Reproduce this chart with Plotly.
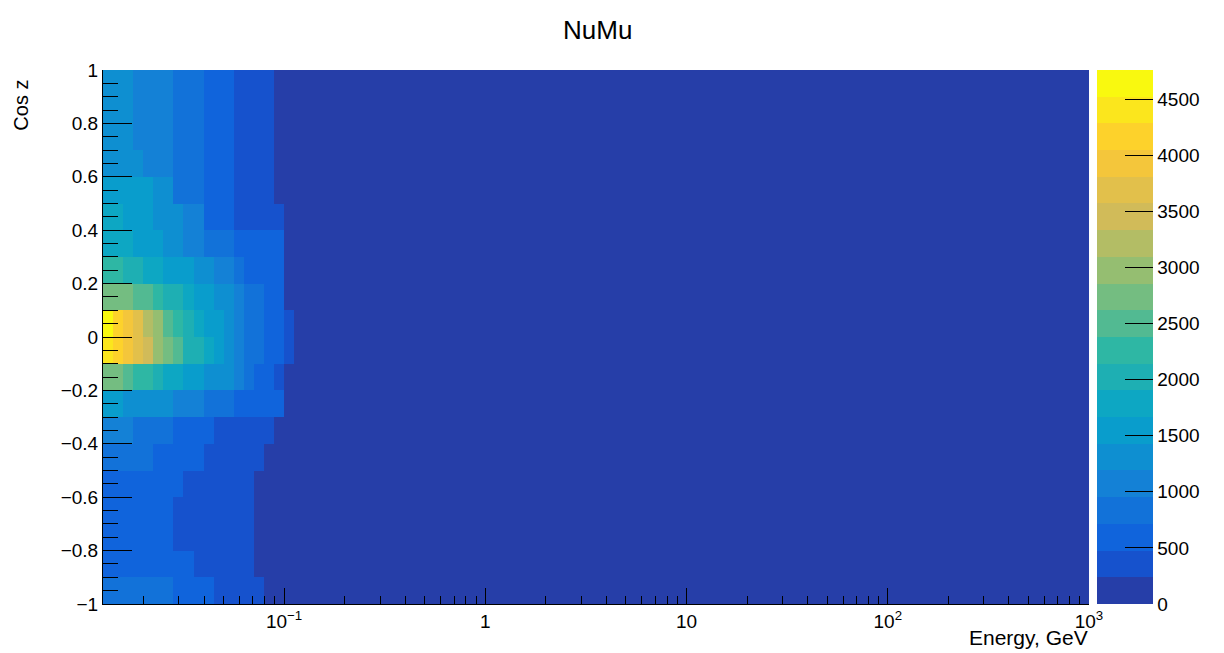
import numpy as np
import plotly.graph_objects as go

# ---- binning -------------------------------------------------------------
# energy bins: 0.05 decade wide starting at 10^-1.9 GeV; the first 19 bins are
# listed individually, everything above 10^-0.95 GeV is a single wide bin.
log_e_first_edge = -1.9
log_e_bin_width = 0.05
n_fine_bins = 19
e_max = 1000.0

cosz_edges = [-1.0, -0.9, -0.8, -0.7, -0.6, -0.5, -0.4, -0.3, -0.2, -0.1, 0.0,
              0.1, 0.2, 0.3, 0.4, 0.5, 0.6, 0.7, 0.8, 0.9, 1.0]

# ---- bin contents (rows: cos z bins from -1 upwards; columns: energy bins) --
counts_cz_m10 = [890, 870, 860, 850, 830, 810, 790, 680, 650, 620, 580, 440, 410, 380, 350, 310, 190, 150, 120]
counts_cz_m09 = [700, 690, 680, 670, 650, 640, 620, 590, 540, 460, 430, 400, 370, 330, 290, 200, 160, 130, 100]
counts_cz_m08 = [700, 690, 680, 660, 640, 610, 560, 460, 440, 420, 390, 360, 330, 300, 260, 200, 160, 130, 100]
counts_cz_m07 = [705, 695, 680, 665, 645, 615, 570, 465, 445, 420, 395, 365, 335, 300, 265, 205, 165, 135, 105]
counts_cz_m06 = [710, 700, 690, 675, 660, 640, 610, 560, 465, 440, 410, 380, 350, 310, 270, 210, 170, 140, 110]
counts_cz_m05 = [880, 860, 830, 800, 760, 700, 670, 640, 600, 550, 460, 430, 400, 360, 320, 280, 200, 160, 120]
counts_cz_m04 = [1100, 1080, 1050, 920, 900, 870, 830, 700, 670, 640, 600, 460, 430, 400, 370, 330, 290, 200, 150]
counts_cz_m03 = [1580, 1520, 1390, 1350, 1320, 1290, 1250, 1140, 1090, 1030, 900, 860, 800, 690, 650, 610, 560, 500, 180]
counts_cz_m02 = [2780, 2700, 2520, 2330, 2250, 2050, 1850, 1760, 1600, 1500, 1380, 1320, 1260, 1080, 850, 640, 560, 400, 200]
counts_cz_m01 = [4480, 4200, 3950, 3700, 3450, 3000, 2750, 2500, 2050, 1960, 1800, 1560, 1320, 1100, 880, 780, 640, 560, 400]
counts_cz_p00 = [4760, 4230, 3980, 3720, 3220, 2980, 2520, 2280, 2020, 1800, 1560, 1480, 1300, 1090, 870, 790, 650, 560, 380]
counts_cz_p01 = [2800, 2750, 2700, 2560, 2480, 2300, 2100, 2000, 1800, 1620, 1450, 1400, 1330, 1150, 850, 800, 650, 580, 200]
counts_cz_p02 = [2300, 2200, 2080, 1980, 1850, 1750, 1650, 1600, 1520, 1400, 1200, 1060, 1000, 950, 660, 620, 580, 530, 190]
counts_cz_p03 = [1850, 1800, 1720, 1600, 1550, 1480, 1380, 1300, 1100, 1020, 900, 850, 780, 680, 640, 600, 560, 500, 190]
counts_cz_p04 = [1800, 1720, 1620, 1560, 1500, 1400, 1340, 1280, 1120, 1040, 690, 650, 600, 450, 420, 390, 350, 300, 180]
counts_cz_p05 = [1620, 1580, 1540, 1500, 1470, 1380, 1300, 900, 850, 790, 680, 630, 580, 450, 410, 370, 330, 190, 150]
counts_cz_p06 = [1380, 1360, 1330, 1300, 1150, 1100, 1060, 900, 850, 790, 680, 630, 580, 450, 410, 370, 330, 190, 150]
counts_cz_p07 = [1330, 1300, 1270, 1150, 1110, 1070, 1030, 900, 850, 790, 680, 630, 580, 450, 410, 370, 320, 180, 140]
counts_cz_p08 = [1320, 1290, 1250, 1140, 1100, 1060, 1020, 890, 840, 780, 670, 620, 570, 440, 400, 360, 310, 170, 130]
counts_cz_p09 = [1310, 1280, 1240, 1130, 1090, 1050, 1010, 880, 830, 770, 660, 610, 560, 430, 390, 350, 300, 160, 120]

# wide high-energy bin (10^-0.95 .. 10^3 GeV), one value per cos z bin
counts_high_energy = [90, 80, 75, 70, 70, 75, 85, 95, 110, 130, 130, 115, 100, 90, 85, 80, 75, 70, 70, 70]

low_energy_rows = [counts_cz_m10, counts_cz_m09, counts_cz_m08, counts_cz_m07, counts_cz_m06,
                   counts_cz_m05, counts_cz_m04, counts_cz_m03, counts_cz_m02, counts_cz_m01,
                   counts_cz_p00, counts_cz_p01, counts_cz_p02, counts_cz_p03, counts_cz_p04,
                   counts_cz_p05, counts_cz_p06, counts_cz_p07, counts_cz_p08, counts_cz_p09]

z = [row + [hi] for row, hi in zip(low_energy_rows, counts_high_energy)]
energy_edges = list(10 ** (log_e_first_edge + log_e_bin_width * np.arange(n_fine_bins + 1))) + [e_max]

# ---- colour palette: 20 contour levels of the "bird" gradient ------------------
stops = [0.0, 0.125, 0.25, 0.375, 0.5, 0.625, 0.75, 0.875, 1.0]
red = [0.2082, 0.0592, 0.0780, 0.0232, 0.1802, 0.5301, 0.8186, 0.9956, 0.9764]
green = [0.1664, 0.3599, 0.5041, 0.6419, 0.7178, 0.7492, 0.7328, 0.7862, 0.9832]
blue = [0.5293, 0.8684, 0.8385, 0.7914, 0.6425, 0.4662, 0.3499, 0.1968, 0.0539]
n_palette = 255
palette = []
for g in range(1, len(stops)):
    n_grad = int(np.floor(n_palette * stops[g]) - np.floor(n_palette * stops[g - 1]))
    for c in range(n_grad):
        palette.append((red[g - 1] + c * (red[g] - red[g - 1]) / n_grad,
                        green[g - 1] + c * (green[g] - green[g - 1]) / n_grad,
                        blue[g - 1] + c * (blue[g] - blue[g - 1]) / n_grad))

n_levels = 20
z_min = 0.0
z_max = max(max(r) for r in z)
colorscale = []
for k in range(n_levels):
    r, gg, b = palette[min(int((k + 0.99) * n_palette / n_levels), n_palette - 1)]
    col = f"rgb({round(r * 255)},{round(gg * 255)},{round(b * 255)})"
    colorscale.append([k / n_levels, col])
    colorscale.append([(k + 1) / n_levels, col])

FONT = "Liberation Sans, Arial, Helvetica, sans-serif"

fig = go.Figure(go.Heatmap(
    x=energy_edges,
    y=cosz_edges,
    z=z,
    zmin=z_min,
    zmax=z_max,
    colorscale=colorscale,
    zsmooth=False,
    colorbar=dict(
        x=1.008, xanchor="left", xpad=0,
        y=0.5, yanchor="middle", ypad=0,
        len=1.0, lenmode="fraction",
        thickness=56, thicknessmode="pixels",
        outlinewidth=0,
        tick0=0, dtick=500,
        ticks="inside", ticklen=28, tickcolor="black", tickwidth=1,
        tickfont=dict(family=FONT, size=19, color="black"),
    ),
))

minor_e = [k * 10.0 ** n for n in range(-2, 3) for k in range(2, 10)]
minor_e = [v for v in minor_e if 10 ** log_e_first_edge <= v <= e_max]

fig.update_xaxes(
    type="log",
    range=[log_e_first_edge, 3.0],
    tickmode="array",
    tickvals=[0.1, 1, 10, 100, 1000],
    ticktext=["10<sup>\u22121</sup>", "1", "10", "10<sup>2</sup>", "10<sup>3</sup>"],
    ticks="inside", ticklen=16, tickcolor="black", tickwidth=1,
    minor=dict(tickmode="array", tickvals=minor_e, ticks="inside", ticklen=8,
               tickcolor="black", tickwidth=1, showgrid=False),
    showline=True, linecolor="black", linewidth=1,
    showgrid=False, zeroline=False,
    tickfont=dict(family=FONT, size=19, color="black"),
)
fig.update_yaxes(
    range=[-1, 1],
    tick0=0, dtick=0.2,
    ticks="inside", ticklen=29, tickcolor="black", tickwidth=1,
    minor=dict(dtick=0.05, ticks="inside", ticklen=15, tickcolor="black",
               tickwidth=1, showgrid=False),
    showline=True, linecolor="black", linewidth=1,
    showgrid=False, zeroline=False,
    tickfont=dict(family=FONT, size=19, color="black"),
)

fig.add_annotation(text="NuMu", xref="paper", yref="paper", x=0.502, y=1.075,
                   xanchor="center", yanchor="middle", showarrow=False,
                   font=dict(family=FONT, size=26, color="black"))
fig.add_annotation(text="Cos z", xref="paper", yref="paper", x=-0.084, y=0.985,
                   xanchor="center", yanchor="top", textangle=-90, showarrow=False,
                   font=dict(family=FONT, size=20, color="black"))
fig.add_annotation(text="Energy, GeV", xref="paper", yref="paper", x=1.001, y=-0.062,
                   xanchor="right", yanchor="middle", showarrow=False,
                   font=dict(family=FONT, size=21, color="black"))

fig.update_layout(
    width=1224, height=653,
    margin=dict(l=103, r=135, t=70, b=49, autoexpand=False),
    paper_bgcolor="white", plot_bgcolor="white",
    font=dict(family=FONT, color="black"),
    showlegend=False,
)

fig.write_html("out.html")
